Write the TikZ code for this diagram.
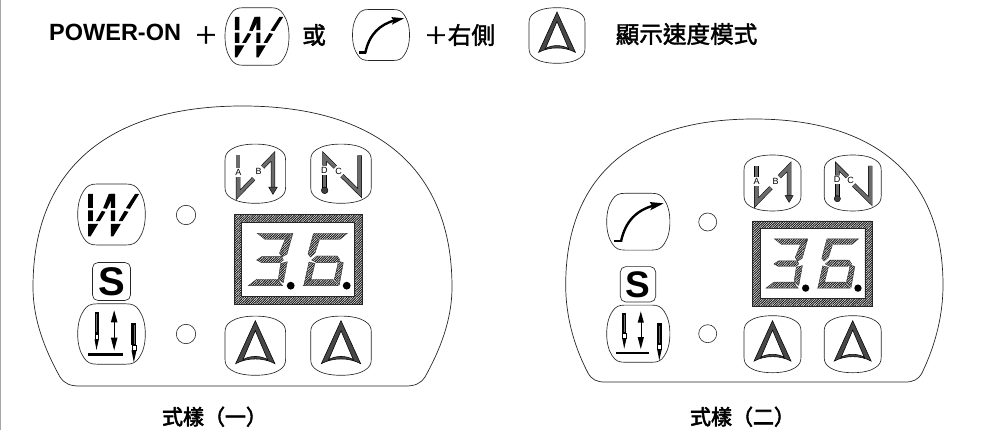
\documentclass[tikz,border=0pt]{standalone}
\usepackage{fontspec}
\setmainfont{Liberation Sans}
\newfontfamily\cjk[FakeBold=1.8]{Noto Sans CJK TC}
\newfontfamily\cjkb[FakeBold=2.8]{Noto Sans CJK TC}
\usetikzlibrary{patterns.meta}
\tikzset{
  hatchfill/.style={pattern={Lines[angle=45,distance=1.7pt,line width=1pt]},pattern color=black!90},
  btn/.style={draw=black!85,line width=.65pt},
  seg/.style={hatchfill,draw=black!80,line width=.4pt},
  tube/.style={draw=black,line width=.55pt,double=black!58,double distance=3.3pt,miter limit=8},
  ink/.style={fill=black,draw=none},
  led/.style={draw=black!85,line width=.6pt,fill=white},
  panel/.style={draw=black!85,line width=.7pt},
  lab/.style={inner sep=0pt,font=\fontsize{9}{10}\selectfont,text=black},
  cjkt/.style={inner sep=0pt,font=\cjk\fontsize{23.6}{26}\selectfont},
  captxt/.style={inner sep=0pt,font=\cjkb\fontsize{21}{23}\selectfont},
}
% button, curved top and bottom, straight sides
\newcommand{\btnV}[4]{\draw[btn,shift={(#1,#2)},x=#3pt,y=#4pt]
  (0,-1) .. controls (.4,-1) and (.65,-.92) .. (.8,-.82) .. controls (.95,-.72) and (1,-.62) .. (1,-.45)
  -- (1,.45) .. controls (1,.62) and (.95,.72) .. (.8,.82) .. controls (.65,.92) and (.4,1) .. (0,1)
  .. controls (-.4,1) and (-.65,.92) .. (-.8,.82) .. controls (-.95,.72) and (-1,.62) .. (-1,.45)
  -- (-1,-.45) .. controls (-1,-.62) and (-.95,-.72) .. (-.8,-.82) .. controls (-.65,-.92) and (-.4,-1) .. (0,-1) -- cycle;}
% button, flat top and bottom, curved sides
\newcommand{\btnH}[4]{\draw[btn,shift={(#1,#2)},x=#3pt,y=#4pt]
  (-.42,-1) -- (.42,-1) .. controls (.62,-1) and (.72,-.95) .. (.82,-.78) .. controls (.93,-.6) and (1,-.35) .. (1,0)
  .. controls (1,.35) and (.93,.6) .. (.82,.78) .. controls (.72,.95) and (.62,1) .. (.42,1)
  -- (-.42,1) .. controls (-.62,1) and (-.72,.95) .. (-.82,.78) .. controls (-.93,.6) and (-1,.35) .. (-1,0)
  .. controls (-1,-.35) and (-.93,-.6) .. (-.82,-.78) .. controls (-.72,-.95) and (-.62,-1) .. (-.42,-1) -- cycle;}
\newcommand{\zoomscope}[5]{\begin{scope}[shift={(#1,#2)},scale=#3,x=.3333pt,y=-.3333pt,shift={(-#4,-#5)}]}
% triangle icon
\newcommand{\triIcon}[3]{\zoomscope{#1}{#2}{#3}{165}{317}
  \fill[black!72,even odd rule,draw=black,line width=.55pt]
    (165,242) -- (224,371) .. controls (190,352) and (140,352) .. (106,371) -- cycle
    (165,272) -- (202,359) .. controls (182,346) and (148,346) .. (128,359) -- cycle;
  \end{scope}}
% W icon
\newcommand{\wIcon}[3]{\zoomscope{#1}{#2}{#3}{213}{255}
  \fill[ink] (143,193) rectangle (157,235) (143,243) rectangle (157,275);
  \fill[ink] (143,283) -- (173,283) -- (150,321) -- (143,321) -- cycle;
  \fill[ink] (166,275) -- (178,275) -- (195,247) -- (184,244) -- cycle;
  \fill[ink] (188,236) -- (199,238) -- (222,193) -- (205,193) -- cycle;
  \fill[ink] (211,193) rectangle (224,235) (211,243) rectangle (224,275);
  \fill[ink] (211,283) -- (241,283) -- (218,321) -- (211,321) -- cycle;
  \fill[ink] (234,275) -- (246,275) -- (264,247) -- (252,244) -- cycle;
  \fill[ink] (256,236) -- (268,238) -- (296,193) -- (284,193) -- cycle;
  \end{scope}}
% needle icon
\newcommand{\needleIcon}[3]{\zoomscope{#1}{#2}{#3}{214}{611}
  \fill[ink] (163,545) rectangle (176,610);
  \draw[black!55,line width=.4pt] (169.5,552) -- (169.5,605);
  \draw[black,line width=.5pt,fill=white] (164,611) rectangle (175,627);
  \fill[ink] (163,627) -- (176,627) -- (169,659) -- cycle;
  \draw[black,line width=.6pt] (222,560) -- (222,640);
  \fill[ink] (222,540) -- (232,576) -- (212,576) -- cycle;
  \fill[ink] (222,660) -- (232,622) -- (212,622) -- cycle;
  \fill[ink] (143,668) rectangle (247,677);
  \fill[ink] (274,578) rectangle (289,645);
  \draw[black!55,line width=.4pt] (281.5,585) -- (281.5,640);
  \draw[black,line width=.5pt,fill=white] (275,646) rectangle (288,660);
  \fill[ink] (274,660) -- (289,660) -- (281,696) -- cycle;
  \end{scope}}
% curve icon
\newcommand{\curveIcon}[3]{\zoomscope{#1}{#2}{#3}{144}{125}
  \draw[black,line width=2.4pt] (72,183) -- (94,183);
  \draw[black,line width=2.4pt] (92,185) .. controls (105,122) and (140,90) .. (192,76);
  \fill[ink] (220,70) -- (178,66) -- (186,78) -- (180,91) -- cycle;
  \end{scope}}
% A-B icon
\newcommand{\abIcon}[3]{\zoomscope{#1}{#2}{#3}{165}{130}
  \draw[tube] (113.5,75) -- (113.5,112);
  \draw[tube] (113.5,140) -- (113.5,193) -- (160,145);
  \draw[tube] (187,110) -- (218,78) -- (218,172);
  \fill[black!70,draw=black,line width=.45pt] (205,170) -- (231,170) -- (218,192) -- cycle;
  \node[lab] (a#1) at (114,126) {A};
  \node[lab] (b#1) at (175,124) {B};
  \end{scope}}
% C-D icon
\newcommand{\cdIcon}[3]{\zoomscope{#1}{#2}{#3}{422}{130}
  \draw[tube] (373,178) -- (373,134);
  \draw[tube] (373,106) -- (373,78) -- (405,110);
  \draw[tube] (425,136) -- (478,188) -- (478,75);
  \fill[black!75,draw=black,line width=.45pt] (373,180) circle[radius=10];
  \node[lab] (d#1) at (372,120) {D};
  \node[lab] (c#1) at (415,122) {C};
  \end{scope}}
% display
\newcommand{\disp}[4]{\begin{scope}[shift={(#1,#2)},xscale=#3,yscale=#4,shift={(-234,-214.3)}]
  \fill[hatchfill,even odd rule] (234,214.3) rectangle (362,304.7) (241.7,222.3) rectangle (354,296.7);
  \draw[black!85,line width=.55pt] (234,214.3) rectangle (362,304.7) (241.7,222.3) rectangle (354,296.7);
  \foreach \p in {
    {(257.3,233.3) -- (292.7,233.3) -- (285,239.3) -- (265,239.3)},
    {(292.7,234) -- (287,254) -- (282,257) -- (279.5,253) -- (284.7,240.5)},
    {(256.7,260) -- (261.7,256.7) -- (281.7,256.7) -- (283.3,260) -- (280,262.7) -- (261.7,262.7)},
    {(287.3,261.7) -- (283.3,282.7) -- (278.3,279.3) -- (280.7,263.5)},
    {(248.3,285.7) -- (256.7,279.3) -- (277.3,279.3) -- (282.7,285.7)},
    {(314,233.3) -- (347.3,233.3) -- (340,239.3) -- (320,239.3)},
    {(313.3,234) -- (319.3,240) -- (315,253) -- (310.5,257) -- (308,254)},
    {(311.7,260) -- (316.7,256) -- (337.3,256) -- (340,260) -- (335,262.7) -- (316.7,262.7)},
    {(309,262) -- (315,263.5) -- (311,279) -- (304,284.5)},
    {(303.3,285.7) -- (310,279.3) -- (332.7,279.3) -- (338.3,285.7)},
    {(338,261) -- (343.3,262.7) -- (339.3,285) -- (334.3,279.3) -- (337.7,265)}}
  { \edef\q{\noexpand\path[seg] \p -- cycle;}\q }
  \fill[black] (290.7,285.7) circle[radius=3.9] (346.7,285.7) circle[radius=3.9];
  \end{scope}}
% S key
\newcommand{\sKey}[4]{\draw[btn,rounded corners=5.5pt] (#1-#3,#2-#3) rectangle (#1+#3,#2+#3);
  \node[inner sep=0pt,font=\bfseries\fontsize{#4}{#4}\selectfont] (s#1) at (#1,#2) {S};}
\begin{document}
\begin{tikzpicture}[x=1pt,y=-1pt]
\useasboundingbox (0,0) rectangle (996,430);
\fill[black!35] (0,0) rectangle (1.4,430);
% header
\node[inner sep=0pt,anchor=base west,font=\bfseries\fontsize{23.5}{26}\selectfont] (pw) at (49,40.7) {POWER-ON};
\node[cjkt] (plus) at (206,35) {＋};
\btnH{257}{36.5}{32}{28.8}
\wIcon{257}{36.5}{.945}
\node[cjkt] (or) at (314,35) {或};
\btnH{381}{35}{28.5}{25.5}
\curveIcon{381}{35}{.91}
\node[cjkt,anchor=west] (right) at (424,35) {＋右側};
\btnV{557}{35.5}{28}{27.8}
\triIcon{557}{35.5}{.94}
\node[cjkt] (mode) at (686.5,34) {顯示速度模式};
% panel one
\draw[panel] (80,386) -- (405,386)
  .. controls (415,386) and (420,384) .. (425,377)
  .. controls (440,350) and (452,320) .. (452,287)
  .. controls (452,170) and (378,106) .. (242.5,106)
  .. controls (107,106) and (33,170) .. (33,287)
  .. controls (33,320) and (45,350) .. (60,377)
  .. controls (65,384) and (70,386) .. (80,386) -- cycle;
\btnH{111.5}{214.5}{33.8}{30.5}
\wIcon{111.5}{214.5}{1}
\sKey{111.5}{281.5}{19}{40}
\btnH{111.5}{334}{33.8}{30.2}
\needleIcon{111.5}{334}{1}
\draw[led] (186,215) circle[radius=9.7];
\draw[led] (186,334) circle[radius=9.7];
\btnV{255.3}{173.7}{30.3}{29.6}
\abIcon{255.3}{173.7}{1}
\btnV{341}{173.7}{30.3}{29.6}
\cdIcon{341}{173.7}{1}
\disp{234}{214.3}{1}{1}
\btnV{255.3}{345.7}{30.3}{29.6}
\triIcon{255.3}{345.7}{1}
\btnV{341}{345.7}{30.3}{29.6}
\triIcon{341}{345.7}{1}
\node[captxt] (cap1) at (214.5,416.7) {式樣（一）};
% panel two
\draw[panel] (605,382) -- (905,382)
  .. controls (913,382) and (918,380) .. (922,373)
  .. controls (933,350) and (943,320) .. (943,285)
  .. controls (943,178) and (877,119) .. (754,119)
  .. controls (631,119) and (565.7,178) .. (565.7,285)
  .. controls (565.7,320) and (576,350) .. (588,373)
  .. controls (592,380) and (597,382) .. (605,382) -- cycle;
\btnH{638.3}{221.7}{31.6}{28.4}
\curveIcon{638.3}{221.7}{1}
\sKey{638}{284.3}{17.7}{37}
\btnH{638.3}{333.7}{31.6}{28.6}
\needleIcon{638.3}{333.7}{.94}
\draw[led] (707.7,222) circle[radius=9];
\draw[led] (707.7,333.7) circle[radius=9];
\btnV{772.5}{183}{28.5}{28}
\abIcon{772.5}{183}{.94}
\btnV{852.7}{183}{28.5}{28}
\cdIcon{852.7}{183}{.94}
\disp{752.7}{221}{.934}{.94}
\btnV{772.5}{344.2}{28.5}{28.5}
\triIcon{772.5}{344.2}{.94}
\btnV{852.7}{344.2}{28.5}{28.5}
\triIcon{852.7}{344.2}{.94}
\node[captxt] (cap2) at (742.5,416.7) {式樣（二）};
\end{tikzpicture}
\end{document}
